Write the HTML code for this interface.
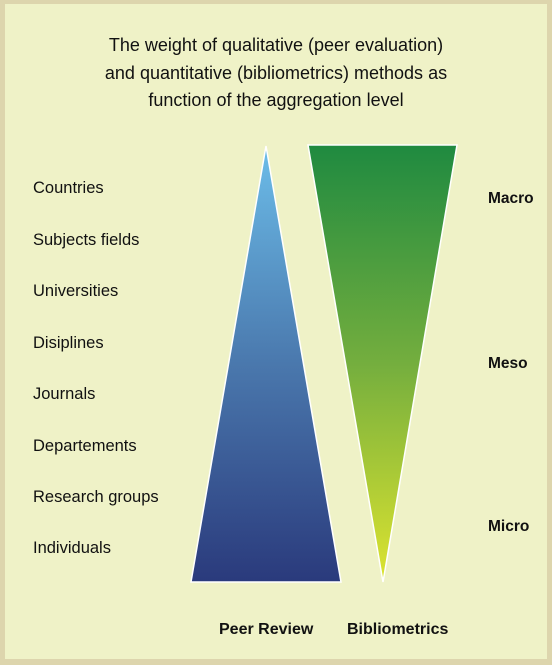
<!DOCTYPE html>
<html><head><meta charset="utf-8"><style>
html,body{margin:0;padding:0}
body{width:552px;height:665px;background:#ddd5ad;position:relative;overflow:hidden;font-family:"Liberation Sans",sans-serif}
#panel{position:absolute;left:5px;top:4px;width:542px;height:655px;background:#eff2c7}
.t{position:absolute;white-space:nowrap;color:#111}
.title{left:0;width:552px;text-align:center;font-size:18px;line-height:27.5px;top:32px}
.lv{left:33px;font-size:16.5px}
.r{left:488px;font-size:15.5px;font-weight:bold}
.b{top:621px;font-size:16px;font-weight:bold}
</style></head><body>
<div id="panel"></div>
<div class="t title">The weight of qualitative (peer evaluation)<br>and quantitative (bibliometrics) methods as<br>function of the aggregation level</div>
<svg width="552" height="665" style="position:absolute;left:0;top:0">
<defs>
<linearGradient id="gb" x1="0" y1="0" x2="0" y2="1"><stop offset="0" stop-color="#6cbde9"/><stop offset="0.5" stop-color="#4a78ad"/><stop offset="1" stop-color="#2a3a7c"/></linearGradient>
<linearGradient id="gg" x1="0" y1="0" x2="0" y2="1"><stop offset="0" stop-color="#1f8a40"/><stop offset="0.5" stop-color="#74ae3e"/><stop offset="1" stop-color="#dde430"/></linearGradient>
</defs>
<polygon points="266,146 341,582 191,582" fill="url(#gb)" stroke="#fff" stroke-width="1.5"/>
<polygon points="308,145 457,145 383,582" fill="url(#gg)" stroke="#fff" stroke-width="1.5"/>
</svg>
<div class="t lv" style="top:179px">Countries</div>
<div class="t lv" style="top:231px">Subjects fields</div>
<div class="t lv" style="top:282px">Universities</div>
<div class="t lv" style="top:334px">Disiplines</div>
<div class="t lv" style="top:385px">Journals</div>
<div class="t lv" style="top:437px">Departements</div>
<div class="t lv" style="top:488px">Research groups</div>
<div class="t lv" style="top:539px">Individuals</div>
<div class="t r" style="top:190px">Macro</div>
<div class="t r" style="top:355px">Meso</div>
<div class="t r" style="top:518px">Micro</div>
<div class="t b" style="left:219px">Peer Review</div>
<div class="t b" style="left:347px">Bibliometrics</div>
</body></html>
